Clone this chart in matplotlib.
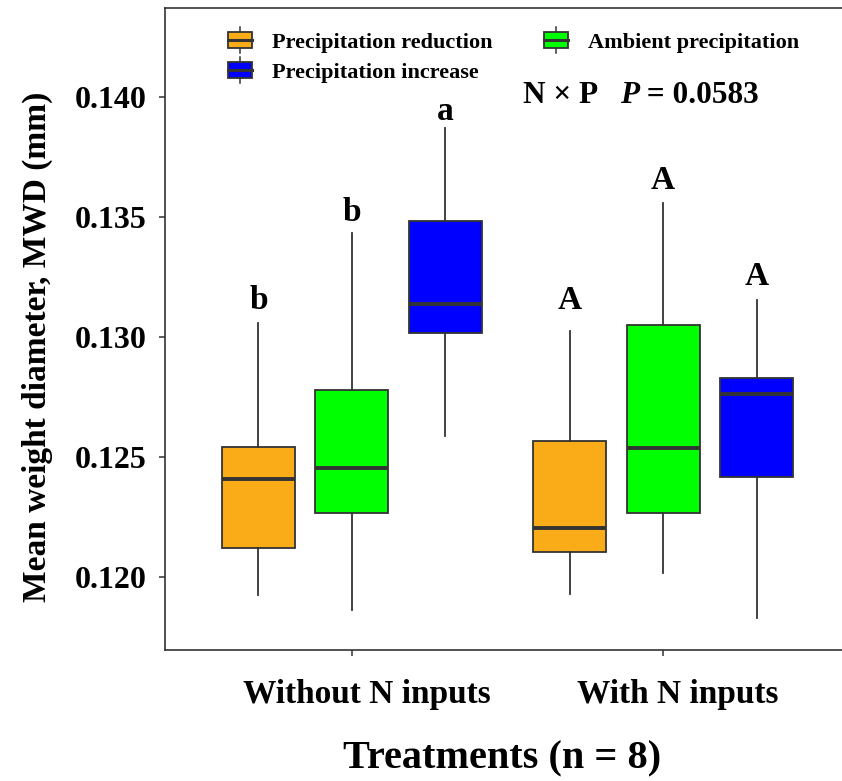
import matplotlib
matplotlib.use("Agg")
import matplotlib.pyplot as plt
import matplotlib.transforms as mtransforms
from matplotlib.legend_handler import HandlerBase
from matplotlib.patches import Rectangle, Patch
from matplotlib.lines import Line2D

plt.rcParams['font.family'] = ['Liberation Serif', 'DejaVu Serif']
plt.rcParams['font.weight'] = 'bold'

groups = ["Without N inputs", "With N inputs"]
treatments = ["Precipitation reduction", "Ambient precipitation", "Precipitation increase"]
colors = ["#FAAB18", "#00FF00", "#0000FF"]

# one row per treatment, one value per group
whis_low = [[0.11925, 0.11929], [0.11863, 0.12017], [0.12588, 0.11829]]
q1 = [[0.12121, 0.12104], [0.12267, 0.12267], [0.13017, 0.12417]]
median = [[0.12408, 0.12204], [0.12454, 0.12538], [0.13138, 0.12763]]
q3 = [[0.12542, 0.12567], [0.12779, 0.13050], [0.13483, 0.12829]]
whis_high = [[0.13058, 0.13025], [0.13433, 0.13558], [0.13871, 0.13154]]

letters = [["b", "A"], ["b", "A"], ["a", "A"]]
letter_y = [[0.13154, 0.13154], [0.13517, 0.13654], [0.13938, 0.13250]]

offsets = [-0.3, 0.0, 0.3]
edge = "#333333"


class BoxHandler(HandlerBase):
    # legend key drawn like a small boxplot
    def create_artists(self, legend, orig_handle, xdescent, ydescent,
                       width, height, fontsize, trans):
        x0, y0 = -xdescent, -ydescent
        cx = x0 + width / 2
        rect = Rectangle((x0, y0), width, height, facecolor=orig_handle.get_facecolor(),
                         edgecolor=edge, lw=1.3, transform=trans)
        med = Line2D([x0, x0 + width], [y0 + height / 2] * 2, color=edge, lw=2.2, transform=trans)
        top = Line2D([cx, cx], [y0 + height, y0 + height * 1.33], color=edge, lw=1.1, transform=trans)
        bot = Line2D([cx, cx], [y0, y0 - height * 0.33], color=edge, lw=1.1, transform=trans)
        return [top, bot, rect, med]


fig = plt.figure(figsize=(8.42, 7.81), dpi=100)
ax = fig.add_axes([165 / 842, 131 / 781, 685 / 842, 642 / 781])

for i, tr in enumerate(treatments):
    stats = []
    for g in range(len(groups)):
        stats.append(dict(whislo=whis_low[i][g], q1=q1[i][g], med=median[i][g],
                          q3=q3[i][g], whishi=whis_high[i][g], fliers=[]))
    pos = [g + 1 + offsets[i] for g in range(len(groups))]
    ax.bxp(stats, positions=pos, widths=0.235, patch_artist=True, showcaps=False,
           showfliers=False, manage_ticks=False,
           boxprops=dict(facecolor=colors[i], edgecolor=edge, linewidth=1.3),
           medianprops=dict(color=edge, linewidth=2.8),
           whiskerprops=dict(color=edge, linewidth=1.3))
    for g in range(len(groups)):
        ax.text(pos[g], letter_y[i][g], letters[i][g], ha='center', va='center',
                fontsize=24, fontweight='bold')

ax.set_xlim(0.4, 2.6)
ax.set_ylim(0.116958, 0.143708)
ax.set_xticks([1, 2])
ax.set_xticklabels(groups)
ax.set_yticks([0.120, 0.125, 0.130, 0.135, 0.140])
ax.set_yticklabels(["0.120", "0.125", "0.130", "0.135", "0.140"])
ax.tick_params(axis='y', labelsize=23, length=4, width=1.1, color=edge, pad=9)
ax.tick_params(axis='x', labelsize=24, length=4, width=1.1, color=edge, pad=17)
# the group names sit a little right of their ticks in the original
shift = mtransforms.ScaledTranslation(15 / 100, 0, fig.dpi_scale_trans)
for lab in ax.get_xticklabels():
    lab.set_transform(lab.get_transform() + shift)
for s in ax.spines.values():
    s.set_color(edge)
    s.set_linewidth(1.2)

ax.set_ylabel("Mean weight diameter, MWD (mm)", fontsize=24, fontweight='bold')
ax.yaxis.set_label_coords(-0.163, 0.472)
ax.set_xlabel("Treatments (n = 8)", fontsize=29, fontweight='bold')
ax.xaxis.set_label_coords(0.492, -0.141)

t1 = ax.text(0.5226, 0.864, "N × P", transform=ax.transAxes, fontsize=22.5,
             fontweight='bold', va='center')
t2 = ax.annotate("P", xy=(1, 0), xycoords=t1, xytext=(16, 0), textcoords='offset points',
                 fontsize=22.5, fontweight='bold', fontstyle='italic', va='bottom')
ax.annotate(" = 0.0583", xy=(1, 0), xycoords=t2, fontsize=22.5, fontweight='bold', va='bottom')

handles = [Patch(facecolor=c) for c in colors]
order = [0, 2, 1]
ax.legend([handles[k] for k in order], [treatments[k] for k in order],
          handler_map={Patch: BoxHandler()}, ncol=2, frameon=False,
          loc='upper left', bbox_to_anchor=(0.092, 0.962), borderpad=0, borderaxespad=0,
          prop=dict(size=16, weight='bold'), handlelength=1.08, handleheight=0.72,
          handletextpad=0.9, columnspacing=2.3, labelspacing=0.4)

fig.savefig("out.png", dpi=100)
